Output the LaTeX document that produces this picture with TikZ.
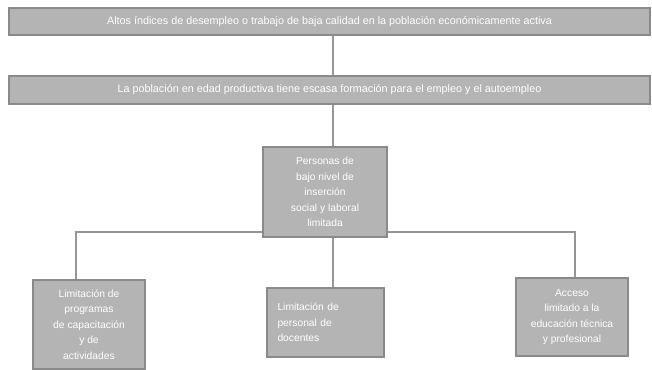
\documentclass[tikz,border=0pt]{standalone}
\usepackage{fontspec}
\setmainfont{Liberation Sans}
\usepackage{tikz}
\usetikzlibrary{positioning}
\definecolor{CajaGris}{RGB}{180,180,180}
\definecolor{BordeGris}{RGB}{138,138,138}
\definecolor{LineaGris}{RGB}{150,150,150}
\tikzset{
  barra/.style={draw=BordeGris,line width=1.2pt,fill=CajaGris,text=white,
    minimum width=641pt,inner sep=0pt,font=\fontsize{10.8}{15}\selectfont},
  caja/.style={draw=BordeGris,line width=1.2pt,fill=CajaGris,text=white,
    inner sep=0pt,align=center,font=\fontsize{10.3}{15.5}\selectfont},
  linea/.style={draw=LineaGris,line width=1.6pt}
}
\begin{document}
\begin{tikzpicture}[x=1pt,y=-1pt]
      \useasboundingbox (0,0) rectangle (652,369);
      % niveles superiores
      \node[barra,minimum height=27pt] (efecto) at (329.5,21.5)
        {Altos índices de desempleo o trabajo de baja calidad en la población económicamente activa};
      \node[barra,minimum height=28pt] (poblacion) at (329.5,90)
        {La población en edad productiva tiene escasa formación para el empleo y el autoempleo};
      \node[caja,minimum width=124pt,minimum height=90pt] (centro) at (325,192)
        {Personas de\\bajo nivel de\\inserción\\social y laboral\\limitada};
      % causas
      \node[caja,minimum width=112pt,minimum height=89pt] (izq) at (89,324.5)
        {Limitación de\\programas\\de capacitación\\y de\\actividades};
      \node[caja,minimum width=117pt,minimum height=69pt,align=left,
        text width=96pt] (medio) at (325.5,322.5)
        {Limitación de\\personal de\\docentes};
      \node[caja,minimum width=112pt,minimum height=78pt] (der) at (572,317)
        {Acceso\\limitado a la\\educación técnica\\y profesional};
      % conectores
      \coordinate (tronco) at (333,0);
      \coordinate (ramaI) at (76,232);
      \coordinate (ramaD) at (575,232);
      \draw[linea] (efecto.south -| tronco) -- (poblacion.north -| tronco);
      \draw[linea] (poblacion.south -| tronco) -- (centro.north -| tronco);
      \draw[linea] (centro.south -| tronco) -- (medio.north -| tronco);
      \draw[linea] (centro.west |- ramaI) -- (ramaI) -- (izq.north -| ramaI);
      \draw[linea] (centro.east |- ramaD) -- (ramaD) -- (der.north -| ramaD);
    \end{tikzpicture}
\end{document}
